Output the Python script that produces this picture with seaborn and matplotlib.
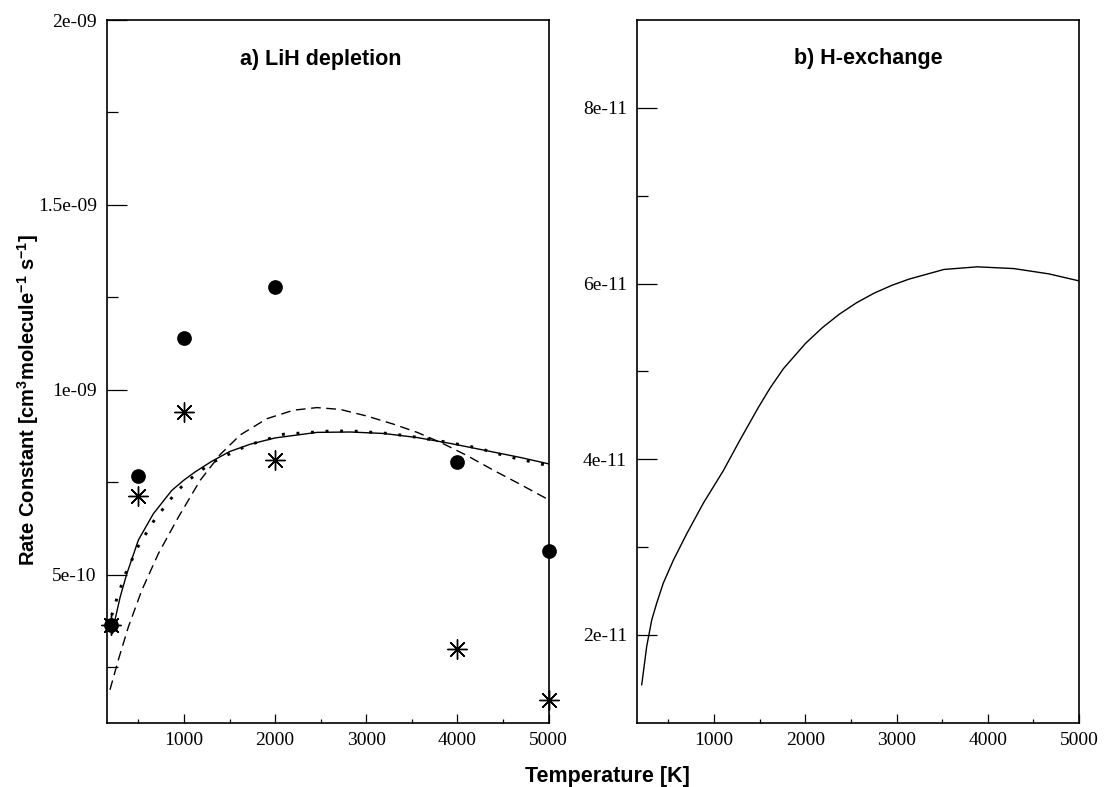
import numpy as np
import pandas as pd
import matplotlib
matplotlib.use("Agg")
import matplotlib.pyplot as plt
from matplotlib.ticker import FixedLocator, FuncFormatter
import seaborn as sns

# ---------------- data ----------------
# Panel a) LiH depletion
pts_T = [200, 500, 1000, 2000, 4000, 5000]
circles_k = [3.65e-10, 7.66e-10, 1.14e-9, 1.279e-9, 8.05e-10, 5.63e-10]
stars_k = [3.65e-10, 7.14e-10, 9.41e-10, 8.11e-10, 3.0e-10, 1.62e-10]

solid_T = [216, 243, 300, 372, 500, 664, 866, 1000, 1122, 1300, 1500, 1727, 2000,
           2460, 2826, 3192, 3559, 3925, 4291, 4694, 5000]
solid_k = [3.41e-10, 3.78e-10, 4.40e-10, 5.02e-10, 5.94e-10, 6.65e-10, 7.28e-10,
           7.56e-10, 7.78e-10, 8.06e-10, 8.33e-10, 8.53e-10, 8.70e-10, 8.85e-10,
           8.86e-10, 8.82e-10, 8.71e-10, 8.55e-10, 8.37e-10, 8.17e-10, 8.00e-10]

dot_T = [207, 254, 300, 364, 500, 675, 884, 1000, 1134, 1300, 1434, 1700, 2093,
         2625, 2900, 3250, 3520, 3900, 4220, 4548, 5000]
dot_k = [3.90e-10, 4.28e-10, 4.62e-10, 5.06e-10, 5.78e-10, 6.48e-10, 7.14e-10,
         7.45e-10, 7.72e-10, 8.02e-10, 8.19e-10, 8.50e-10, 8.80e-10, 8.89e-10,
         8.88e-10, 8.82e-10, 8.73e-10, 8.58e-10, 8.43e-10, 8.20e-10, 7.95e-10]

dash_T = [188, 280, 390, 537, 719, 939, 1177, 1397, 1617, 1910, 2203, 2460, 2716,
          3009, 3302, 3559, 3815, 4108, 4401, 4694, 5000]
dash_k = [1.89e-10, 2.70e-10, 3.59e-10, 4.58e-10, 5.57e-10, 6.56e-10, 7.55e-10,
          8.25e-10, 8.78e-10, 9.22e-10, 9.45e-10, 9.52e-10, 9.47e-10, 9.29e-10,
          9.07e-10, 8.85e-10, 8.58e-10, 8.22e-10, 7.82e-10, 7.44e-10, 7.03e-10]

# Panel b) H-exchange
hx_T = [207, 262, 317, 371, 444, 554, 700, 883, 1102, 1285, 1486, 1614, 1760, 2004,
        2190, 2372, 2560, 2754, 2950, 3137, 3520, 3884, 4285, 4668, 5000]
hx_k = [1.43e-11, 1.87e-11, 2.17e-11, 2.36e-11, 2.59e-11, 2.85e-11, 3.15e-11,
        3.50e-11, 3.87e-11, 4.22e-11, 4.59e-11, 4.81e-11, 5.03e-11, 5.32e-11,
        5.50e-11, 5.65e-11, 5.78e-11, 5.89e-11, 5.98e-11, 6.05e-11, 6.16e-11,
        6.19e-11, 6.17e-11, 6.11e-11, 6.03e-11]

x_major = [1000, 2000, 3000, 4000, 5000]
x_minor = [500, 1500, 2500, 3500, 4500]
ya_major = [5e-10, 1e-9, 1.5e-9, 2e-9]
ya_minor = [2.5e-10, 7.5e-10, 1.25e-9, 1.75e-9]
yb_major = [2e-11, 4e-11, 6e-11, 8e-11]
yb_minor = [3e-11, 5e-11, 7e-11]

# ---------------- style ----------------
sns.set_style("white")
plt.rcParams["font.family"] = ["Liberation Sans", "DejaVu Sans"]
plt.rcParams["mathtext.fontset"] = "custom"
plt.rcParams["mathtext.rm"] = "Liberation Sans:bold"
plt.rcParams["mathtext.bf"] = "Liberation Sans:bold"
plt.rcParams["mathtext.it"] = "Liberation Sans:bold"

W, H = 1107, 787
fig = plt.figure(figsize=(W / 100, H / 100), dpi=100)
fig.patch.set_facecolor("white")
bottom = (H - 722.7) / H
height = 702.7 / H
ax1 = fig.add_axes([106.5 / W, bottom, 442 / W, height])
ax2 = fig.add_axes([636.5 / W, bottom, 442.5 / W, height])

K = "black"
# Panel a
sns.lineplot(x=solid_T, y=solid_k, ax=ax1, color=K, lw=1.0)
sns.lineplot(x=dash_T, y=dash_k, ax=ax1, color=K, lw=1.0, linestyle=(0, (7, 4)))
sns.lineplot(x=dot_T, y=dot_k, ax=ax1, color=K, lw=2.1,
             linestyle=(0, (1, 4)), dash_capstyle="butt")
sns.scatterplot(x=pts_T, y=circles_k, ax=ax1, marker="o", s=10.6 ** 2,
                color=K, edgecolor=K, linewidth=0, zorder=5, clip_on=False)
sns.scatterplot(x=pts_T, y=stars_k, ax=ax1, marker=(8, 2, 0), s=14 ** 2,
                color=K, edgecolor=K, linewidth=1.0, zorder=5, clip_on=False)

# Panel b
sns.lineplot(x=hx_T, y=hx_k, ax=ax2, color=K, lw=1.0)

ax1.set_xlim(150, 5000)
ax1.set_ylim(1e-10, 2e-9)
ax2.set_xlim(150, 5000)
ax2.set_ylim(1e-11, 9e-11)

fmt = FuncFormatter(lambda v, p: "%g" % v)
for ax, ymaj, ymin in [(ax1, ya_major, ya_minor), (ax2, yb_major, yb_minor)]:
    ax.xaxis.set_major_locator(FixedLocator(x_major))
    ax.xaxis.set_minor_locator(FixedLocator(x_minor))
    ax.yaxis.set_major_locator(FixedLocator(ymaj))
    ax.yaxis.set_minor_locator(FixedLocator(ymin))
    ax.xaxis.set_major_formatter(fmt)
    ax.yaxis.set_major_formatter(fmt)
    ax.tick_params(axis="both", which="both", direction="in", top=False, right=False,
                   left=True, bottom=True, color=K, width=0.9)
    ax.tick_params(axis="y", which="major", length=14.4, pad=7)
    ax.tick_params(axis="y", which="minor", length=7.9)
    ax.tick_params(axis="x", which="major", length=6.7, pad=7)
    ax.tick_params(axis="x", which="minor", length=3.1)
    for lab in ax.get_xticklabels() + ax.get_yticklabels():
        lab.set_fontfamily("Liberation Serif")
        lab.set_fontsize(14)
        lab.set_color(K)
    for sp in ax.spines.values():
        sp.set_visible(True)
        sp.set_color(K)
        sp.set_linewidth(1.2)
    ax.set_xlabel("")
    ax.set_ylabel("")
    ax.set_facecolor("white")
    ax.grid(False)

ax1.text(0.484, 0.936, "a) LiH depletion", transform=ax1.transAxes,
         ha="center", va="baseline", fontsize=15.5, fontweight="bold", color=K)
ax2.text(0.524, 0.938, "b) H-exchange", transform=ax2.transAxes,
         ha="center", va="baseline", fontsize=15.5, fontweight="bold", color=K)

fig.text(607.5 / W, 1 - 781.7 / H, "Temperature [K]", ha="center", va="baseline",
         fontsize=15.5, fontweight="bold", color=K)
fig.text(28 / W, 1 - 400 / H,
         r"Rate Constant [cm$^{3}$molecule$^{-1}$ s$^{-1}$]",
         rotation=90, ha="center", va="center", fontsize=14.5, fontweight="bold", color=K)

fig.savefig("out.png", dpi=100, facecolor="white")
